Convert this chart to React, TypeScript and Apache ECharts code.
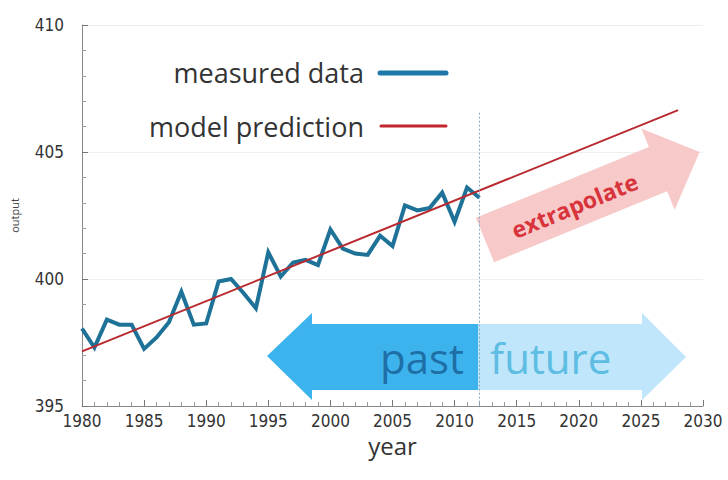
import React, { useEffect, useRef } from "react";
import * as echarts from "echarts";

const years = [1980,1981,1982,1983,1984,1985,1986,1987,1988,1989,1990,1991,1992,1993,1994,1995,1996,1997,1998,1999,2000,2001,2002,2003,2004,2005,2006,2007,2008,2009,2010,2011,2012];
const measured = [398.05,397.3,398.4,398.2,398.2,397.25,397.7,398.3,399.5,398.2,398.25,399.9,400.0,399.45,398.85,401.05,400.1,400.65,400.75,400.55,401.95,401.2,401.0,400.95,401.7,401.3,402.9,402.7,402.8,403.4,402.25,403.6,403.2];
const modelYears = [1980, 2028];
const modelValues = [397.15, 406.65];
const cutoffYear = 2012;
const cutoffTop = 406.55;
const xTicks = [1980, 2030];
const yTicks = [395, 410];

const LABEL_FONT = "'Liberation Sans Narrow', 'DejaVu Sans Condensed', 'Open Sans', sans-serif";
const TEXT_FONT = "'Open Sans', 'DejaVu Sans', sans-serif";

function arrowPoints(L: number, bw: number, hw: number, hl: number) {
  return [
    [0, -bw], [L - hl, -bw], [L - hl, -hw], [L, 0], [L - hl, hw], [L - hl, bw], [0, bw],
  ];
}

export default function App() {
  const ref = useRef<HTMLDivElement>(null);
  useEffect(() => {
    if (!ref.current) return;
    const chart = echarts.init(ref.current, null, { renderer: "svg" });
    const option: any = {
      animation: false,
      backgroundColor: "#ffffff",
      grid: { left: 82, right: 25, top: 25, bottom: 74, containLabel: false },
      xAxis: {
        type: "value",
        min: xTicks[0],
        max: xTicks[1],
        interval: 5,
        name: "year",
        nameLocation: "middle",
        nameGap: 14,
        nameTextStyle: { fontFamily: TEXT_FONT, fontSize: 24, color: "#333" },
        axisLine: { lineStyle: { color: "#888", width: 1 } },
        axisTick: { show: true, inside: true, length: 6, lineStyle: { color: "#777" } },
        minorTick: { show: true, splitNumber: 5, length: 4, lineStyle: { color: "#999" } },
        axisLabel: { fontFamily: LABEL_FONT, fontSize: 17, color: "#333", margin: 6, formatter: (v: number) => String(v) },
        splitLine: { show: false },
      },
      yAxis: {
        type: "value",
        min: yTicks[0],
        max: yTicks[1],
        interval: 5,
        name: "output",
        nameLocation: "middle",
        nameGap: 62,
        nameTextStyle: { fontFamily: TEXT_FONT, fontSize: 11, color: "#444" },
        axisLine: { show: true, lineStyle: { color: "#888", width: 1 } },
        axisTick: { show: true, inside: true, length: 6, lineStyle: { color: "#777" } },
        minorTick: { show: true, splitNumber: 5, length: 4, lineStyle: { color: "#999" } },
        axisLabel: { fontFamily: LABEL_FONT, fontSize: 17, color: "#333", margin: 18, formatter: (v: number) => String(v) },
        splitLine: { show: true, lineStyle: { color: "#eeeeee", width: 1 } },
      },
      graphic: [
        {
          type: "polygon",
          z: 1,
          shape: { points: [[478, 324], [312, 324], [312, 313], [267, 356], [312, 400], [312, 390], [478, 390]] },
          style: { fill: "#3db3ee" },
        },
        {
          type: "polygon",
          z: 1,
          shape: { points: [[478, 324], [642, 324], [642, 313], [686, 357], [642, 400], [642, 390], [478, 390]] },
          style: { fill: "#bfe6fa" },
        },
        {
          type: "text",
          z: 2,
          x: 464,
          y: 357,
          style: { text: "past", fontFamily: TEXT_FONT, fontSize: 42, fill: "#1d6fa5", align: "right", verticalAlign: "middle" },
        },
        {
          type: "text",
          z: 2,
          x: 490,
          y: 357,
          style: { text: "future", fontFamily: TEXT_FONT, fontSize: 42, fill: "#5ebde3", align: "left", verticalAlign: "middle" },
        },
        {
          type: "group",
          x: 485,
          y: 240,
          rotation: (22.3 * Math.PI) / 180,
          z: 1,
          children: [
            {
              type: "polygon",
              z: 1,
              shape: { points: arrowPoints(232, 24, 44, 45) },
              style: { fill: "#f7c9c9" },
            },
            {
              type: "text",
              z: 2,
              x: 96,
              y: 2,
              style: { text: "extrapolate", fontFamily: TEXT_FONT, fontWeight: "bold", fontSize: 23, fill: "#d8343c", align: "center", verticalAlign: "middle" },
            },
          ],
        },
        {
          type: "text",
          z: 3,
          x: 364,
          y: 72,
          style: { text: "measured data", fontFamily: TEXT_FONT, fontSize: 27, fill: "#333", align: "right", verticalAlign: "middle" },
        },
        {
          type: "line",
          z: 3,
          shape: { x1: 380, y1: 73, x2: 446, y2: 73 },
          style: { stroke: "#1d77a8", lineWidth: 5, lineCap: "round" },
        },
        {
          type: "text",
          z: 3,
          x: 364,
          y: 126,
          style: { text: "model prediction", fontFamily: TEXT_FONT, fontSize: 27, fill: "#333", align: "right", verticalAlign: "middle" },
        },
        {
          type: "line",
          z: 3,
          shape: { x1: 381, y1: 126, x2: 446, y2: 126 },
          style: { stroke: "#c4262e", lineWidth: 3, lineCap: "round" },
        },
      ],
      series: [
        {
          type: "line",
          name: "measured data",
          data: years.map((y, i) => [y, measured[i]]),
          showSymbol: false,
          lineStyle: { color: "#1e7298", width: 4, join: "miter" },
          z: 3,
          markLine: {
            silent: true,
            symbol: "none",
            label: { show: false },
            lineStyle: { color: "#8aa8c8", type: [2, 2], width: 1 },
            data: [[{ coord: [cutoffYear, cutoffTop] }, { coord: [cutoffYear, yTicks[0]] }]],
          },
        },
        {
          type: "line",
          name: "model prediction",
          data: modelYears.map((y, i) => [y, modelValues[i]]),
          showSymbol: false,
          lineStyle: { color: "#b82a30", width: 2 },
          z: 4,
        },
      ],
    };
    chart.setOption(option);
    return () => chart.dispose();
  }, []);
  return <div ref={ref} style={{ width: 728, height: 480, position: "absolute", left: 0, top: 0 }} />;
}
